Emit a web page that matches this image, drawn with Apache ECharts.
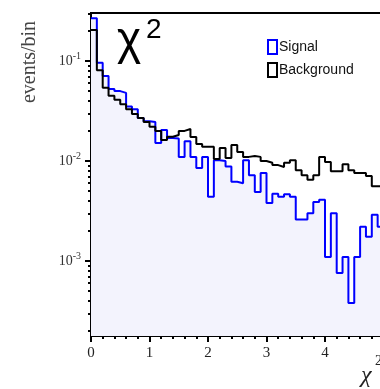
<!DOCTYPE html>
<html><head><meta charset="utf-8">
<script src="https://cdn.jsdelivr.net/npm/echarts@6/dist/echarts.min.js"></script>
<style>html,body{margin:0;padding:0;background:#fff}#c{width:380px;height:389px}</style>
</head><body><div id="c"></div>
<script>
const binEdges = [0,0.1,0.2,0.3,0.4,0.5,0.6,0.7,0.8,0.9,1.0,1.1,1.2,1.3,1.4,1.5,1.6,1.7,1.8,1.9,2.0,2.1,2.2,2.3,2.4,2.5,2.6,2.7,2.8,2.9,3.0,3.1,3.2,3.3,3.4,3.5,3.6,3.7,3.8,3.9,4.0,4.1,4.2,4.3,4.4,4.5,4.6,4.7,4.8,4.9,5.0];
const signal = [0.267,0.096,0.071,0.0525,0.050,0.048,0.035,0.033,0.027,0.025,0.0245,0.0151,0.0204,0.0170,0.0168,0.0110,0.0158,0.0110,0.0085,0.0110,0.0044,0.0102,0.0100,0.0088,0.0062,0.0060,0.0102,0.0072,0.0049,0.0076,0.0038,0.0047,0.0044,0.00465,0.0044,0.0026,0.0026,0.0030,0.0039,0.0041,0.0011,0.0030,0.00076,0.0011,0.00038,0.0011,0.0022,0.00175,0.0029,0.0022];
const background = [0.204,0.081,0.054,0.045,0.041,0.037,0.033,0.0295,0.027,0.0245,0.022,0.020,0.0162,0.0175,0.0182,0.020,0.0209,0.0174,0.0148,0.0139,0.0139,0.0105,0.0135,0.0107,0.0145,0.0123,0.0110,0.0112,0.0110,0.0100,0.0096,0.0091,0.0087,0.0096,0.0102,0.0081,0.0072,0.0065,0.0072,0.0110,0.0098,0.0079,0.0079,0.0093,0.0081,0.0076,0.0076,0.0071,0.0056,0.0056];
const yMajorTicks = [1e-3,1e-2,1e-1];
const yMinorTicks = [2e-4,3e-4,4e-4,5e-4,6e-4,7e-4,8e-4,9e-4,2e-3,3e-3,4e-3,5e-3,6e-3,7e-3,8e-3,9e-3,2e-2,3e-2,4e-2,5e-2,6e-2,7e-2,8e-2,9e-2,2e-1,3e-1];
const xTicks = [0,1,2,3,4,5];

function stepData(vals){
  const d = vals.map((v,i)=>[binEdges[i], v]);
  d.push([binEdges[vals.length], vals[vals.length-1]]);
  return d;
}
const gridRect = {left:91, top:13, width:292.5, height:323, outerBoundsMode:'none', containLabel:false};
const yMin = 1.78e-4, yMax = 0.302;
const chart = echarts.init(document.getElementById('c'));
chart.setOption({
  animation:false,
  grid:[Object.assign({show:true, borderColor:'#000', borderWidth:2, backgroundColor:'transparent'}, gridRect),
        Object.assign({show:false}, gridRect)],
  xAxis:[{
    type:'value', gridIndex:0, min:0, max:5, interval:1,
    axisLine:{lineStyle:{color:'#000', width:2}},
    axisTick:{show:true, length:6, lineStyle:{color:'#000', width:2}},
    minorTick:{show:true, splitNumber:5, length:3, lineStyle:{color:'#000', width:2}},
    splitLine:{show:false},
    axisLabel:{color:'#222', fontFamily:'Liberation Serif', fontSize:15, margin:10,
      customValues: xTicks}
  },{
    type:'value', gridIndex:1, min:0, max:5, show:false
  }],
  yAxis:[{
    type:'log', gridIndex:0, min:yMin, max:yMax, logBase:10,
    axisLine:{show:true, lineStyle:{color:'#000', width:2}},
    axisTick:{show:true, length:3, customValues:yMinorTicks, lineStyle:{color:'#000', width:2}},
    splitLine:{show:false},
    axisLabel:{customValues:yMajorTicks, margin:10,
      formatter:function(v){ return '{b|10}{s|' + Math.round(Math.log10(v)) + '}'; },
      rich:{b:{fontFamily:'Liberation Serif', fontSize:14, color:'#333'},
            s:{fontFamily:'Liberation Serif', fontSize:10, color:'#333', padding:[0,0,9,0]}}}
  },{
    type:'log', gridIndex:1, min:yMin, max:yMax, logBase:10,
    axisLine:{show:false},
    axisTick:{show:true, length:6, customValues:yMajorTicks, lineStyle:{color:'#000', width:2}},
    splitLine:{show:false},
    axisLabel:{show:false}
  }],
  legend:{
    orient:'vertical', left:262, top:34, itemWidth:9, itemHeight:14, itemGap:7,
    textStyle:{fontFamily:'Liberation Sans', fontSize:14, color:'#111', padding:[0,0,0,-3]},
    data:[
      {name:'Signal', icon:'rect', itemStyle:{color:'rgba(0,0,0,0)', borderColor:'#0000ff', borderWidth:2}},
      {name:'Background', icon:'rect', itemStyle:{color:'rgba(0,0,0,0)', borderColor:'#000', borderWidth:2}}
    ]
  },
  graphic:[
    {type:'text', left:117, top:18, style:{text:'χ', font:'46px "Liberation Sans"', fill:'#000'}},
    {type:'text', left:146, top:16, style:{text:'2', font:'28px "Liberation Sans"', fill:'#000'}},
    {type:'text', x:30, y:62, rotation:Math.PI/2, style:{text:'events/bin', font:'20px "Liberation Serif"', fill:'#444', align:'center', verticalAlign:'middle'}},
    {type:'text', left:361, top:364, style:{text:'χ', font:'italic 24px "Liberation Serif"', fill:'#222'}},
    {type:'text', left:375, top:354, style:{text:'2', font:'14px "Liberation Serif"', fill:'#222'}}
  ],
  series:[{
    name:'Signal', type:'line', xAxisIndex:0, yAxisIndex:0, step:'end', showSymbol:false, symbol:'none',
    data: stepData(signal),
    lineStyle:{color:'#0000ff', width:2},
    itemStyle:{color:'#0000ff'},
    areaStyle:{color:'#f3f3fd', origin:'start', opacity:1}
  },{
    name:'Background', type:'line', xAxisIndex:0, yAxisIndex:0, step:'end', showSymbol:false, symbol:'none',
    data: stepData(background),
    lineStyle:{color:'#000', width:2},
    itemStyle:{color:'#000'}
  }]
});
</script></body></html>
